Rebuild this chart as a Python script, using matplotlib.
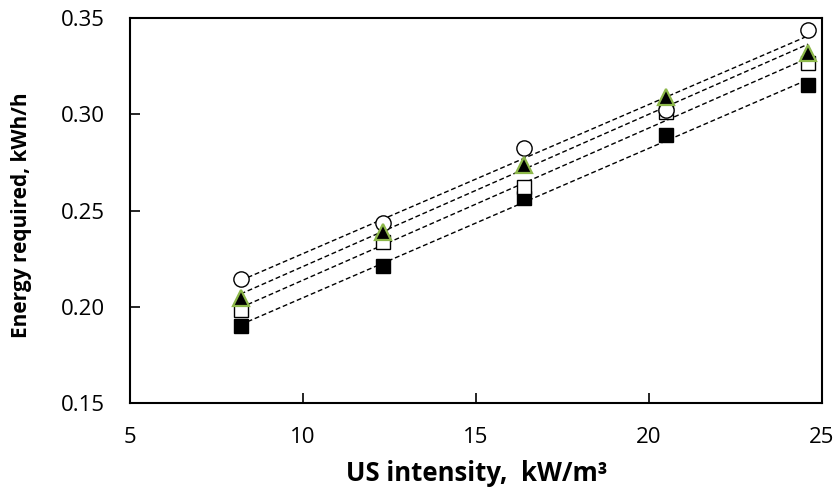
import numpy as np
import matplotlib
matplotlib.use('Agg')
import matplotlib.pyplot as plt

plt.rcParams['font.family'] = ['Open Sans', 'DejaVu Sans']

# US intensity, kW/m3
intensity = [8.2, 12.3, 16.4, 20.5, 24.6]

# Energy required, kWh/h for each series
energy_circle = [0.2144, 0.2433, 0.2823, 0.3022, 0.3438]
energy_triangle = [0.2045, 0.2390, 0.2736, 0.3088, 0.3318]
energy_open_square = [0.1983, 0.2338, 0.2620, 0.3013, 0.3266]
energy_filled_square = [0.1900, 0.2212, 0.2563, 0.2892, 0.3152]

fig = plt.figure(figsize=(8.37, 4.87), dpi=100)
ax = fig.add_axes([0.1553, 0.1725, 0.8267, 0.7905])

x = np.array(intensity)

# linear trend lines (dashed)
for ys in [energy_circle, energy_triangle, energy_open_square, energy_filled_square]:
    k, b = np.polyfit(x, ys, 1)
    ax.plot([x[0], x[-1]], [k * x[0] + b, k * x[-1] + b], color='black',
            linestyle=(0, (3.5, 2)), linewidth=1.0, zorder=2)

ax.plot(x, energy_filled_square, linestyle='none', marker='s', markersize=9.5,
        markerfacecolor='black', markeredgecolor='black', markeredgewidth=1.0, zorder=3)
ax.plot(x, energy_open_square, linestyle='none', marker='s', markersize=9.5,
        markerfacecolor='white', markeredgecolor='black', markeredgewidth=1.0, zorder=4)
ax.plot(x, energy_circle, linestyle='none', marker='o', markersize=11,
        markerfacecolor='white', markeredgecolor='black', markeredgewidth=1.0, zorder=5)
ax.plot(x, energy_triangle, linestyle='none', marker='^', markersize=11,
        markerfacecolor='black', markeredgecolor='#8DB84A', markeredgewidth=1.6, zorder=6)

ax.set_xlim(5, 25)
ax.set_ylim(0.15, 0.35)
ax.set_xticks([5, 10, 15, 20, 25])
ax.set_yticks([0.15, 0.20, 0.25, 0.30, 0.35])
ax.set_yticklabels(['0.15', '0.20', '0.25', '0.30', '0.35'])

for sp in ax.spines.values():
    sp.set_linewidth(1.5)
ax.tick_params(direction='in', length=7, width=1.2, labelsize=16,
               top=False, right=False)
ax.tick_params(axis='x', pad=17)
ax.tick_params(axis='y', pad=18)

ax.set_xlabel('US intensity,  kW/m³', fontsize=18.5, fontweight='bold')
ax.set_ylabel('Energy required, kWh/h', fontsize=15, fontweight='bold')
ax.xaxis.set_label_coords(0.501, -0.182)
ax.yaxis.set_label_coords(-0.1575, 0.487)
ax.xaxis.label.set_va('center')
ax.yaxis.label.set_va('center')

fig.savefig('out.png', dpi=100)
